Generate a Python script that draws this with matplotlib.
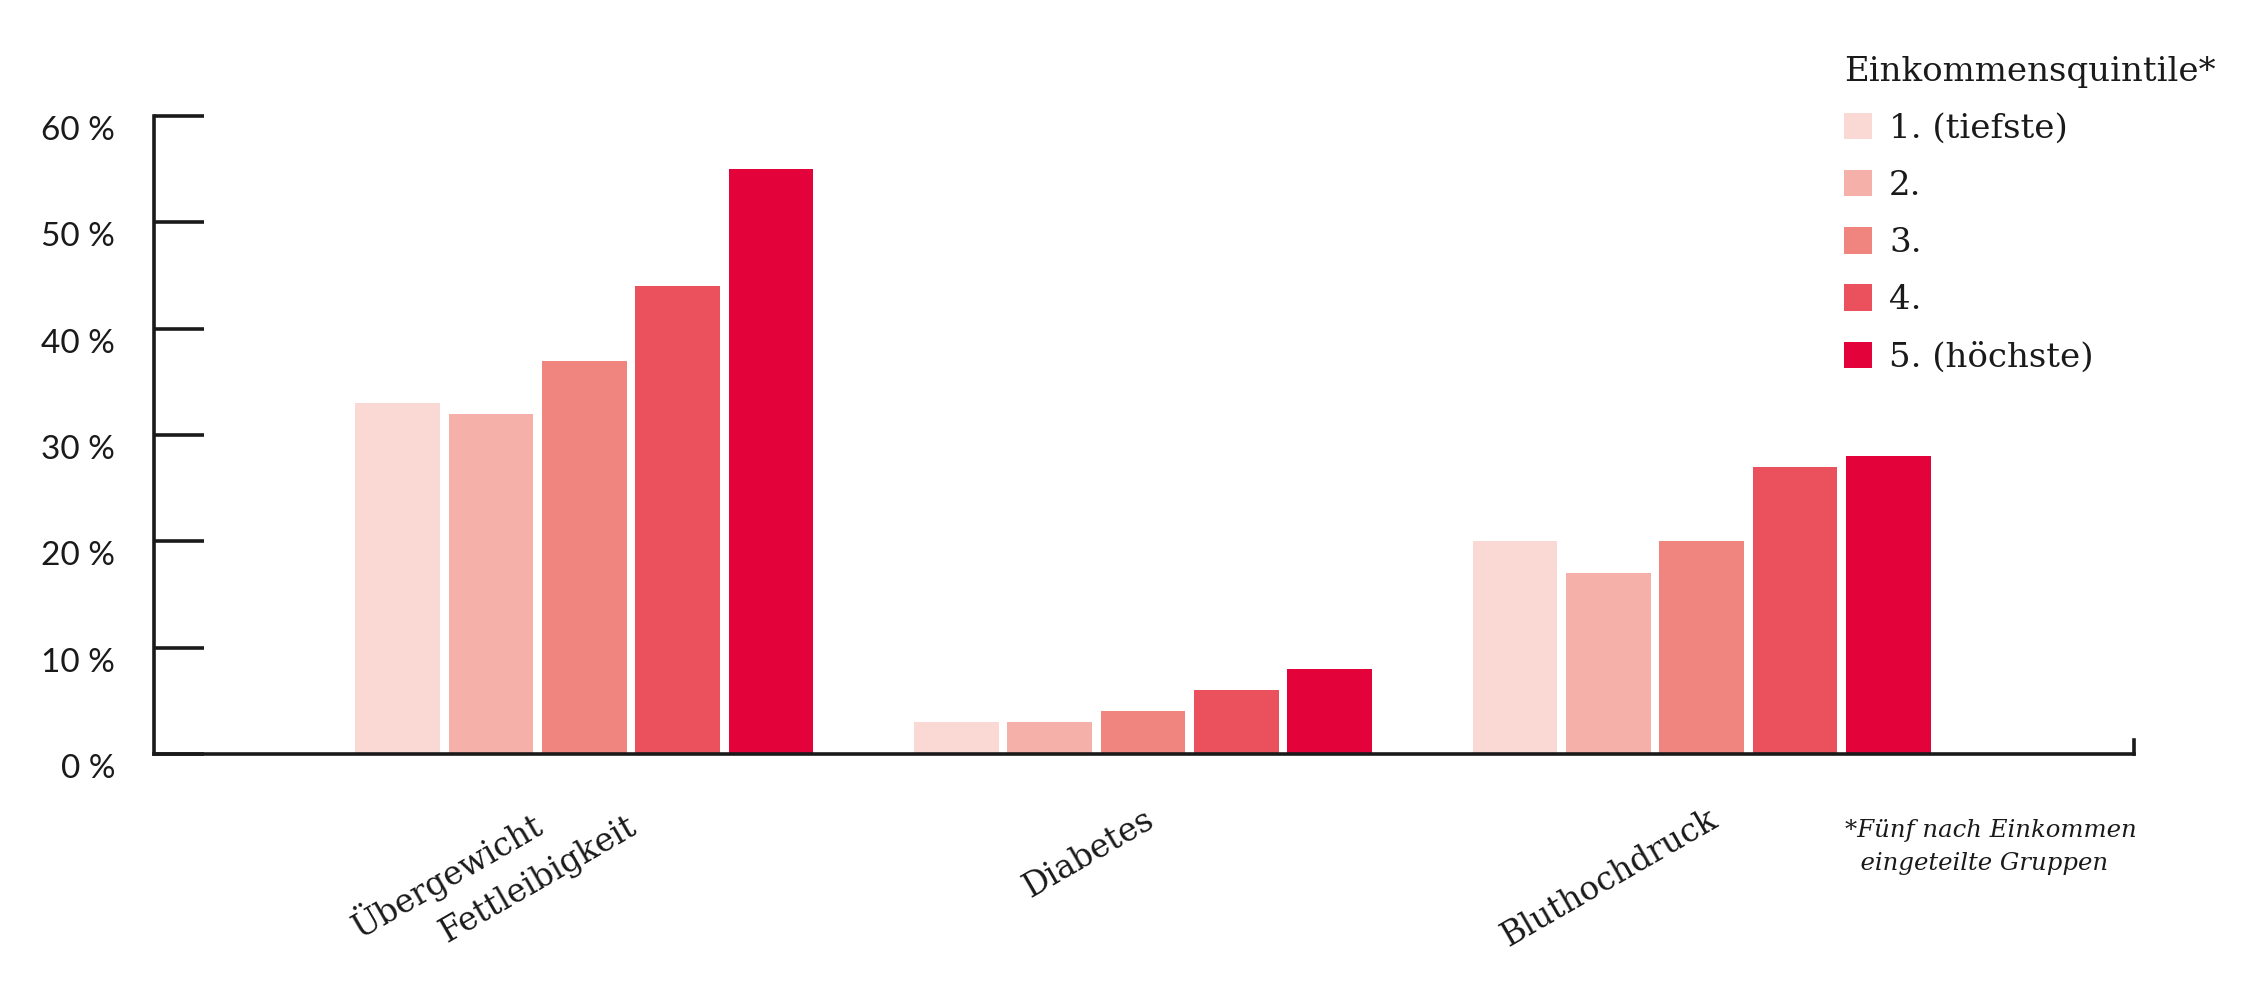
import numpy as np
import matplotlib
matplotlib.use("Agg")
import matplotlib.pyplot as plt

# data
categories = ["Übergewicht Fettleibigkeit", "Diabetes", "Bluthochdruck"]
quintiles = ["1. (tiefste)", "2.", "3.", "4.", "5. (höchste)"]
values = [
    [33, 3, 20],   # 1. (tiefste)
    [32, 3, 17],   # 2.
    [37, 4, 20],   # 3.
    [44, 6, 27],   # 4.
    [55, 8, 28],   # 5. (höchste)
]
colors = ["#FAD9D4", "#F5B0AA", "#F08580", "#EB515C", "#E4023A"]
yticks = [0, 10, 20, 30, 40, 50, 60]
ytick_labels = [f"{t} %" for t in yticks]

serif = "DejaVu Serif"
sans = "Lato"
dark = "#1a1a1a"

fig = plt.figure(figsize=(22.53, 9.92), dpi=100)
ax = fig.add_axes([0.0684, 0.240, 0.947 - 0.0684, 0.643])

x = np.arange(len(categories))
step = 0.1671
width = 0.1517
for i, (vals, c, lab) in enumerate(zip(values, colors, quintiles)):
    ax.bar(x + (i - 2) * step, vals, width=width, color=c, label=lab, linewidth=0)

ax.set_xlim(-0.770, 2.773)
ax.set_ylim(0, 60)

ax.spines["top"].set_visible(False)
for s in ["left", "bottom", "right"]:
    ax.spines[s].set_linewidth(2.6)
    ax.spines[s].set_color(dark)
ax.spines["right"].set_bounds(0, 1.3)

ax.set_yticks(yticks)
ax.set_yticklabels(ytick_labels, fontfamily=sans, fontsize=24, color=dark)
ax.tick_params(axis="y", direction="in", length=36, width=2.6, color=dark, pad=28)
for t in ax.get_yticklabels():
    t.set_va("top")
ax.set_xticks([])

# category labels, rotated
lab_kw = dict(rotation=30, rotation_mode="anchor", ha="right", va="top",
              fontfamily=serif, fontsize=23.5, color=dark,
              transform=ax.get_xaxis_transform())
ax.text(x[0] - 0.099, -0.078, "Übergewicht", **lab_kw)
ax.text(x[0] + 0.075, -0.089, "Fettleibigkeit", **lab_kw)
ax.text(x[1] + 0.0, -0.078, categories[1], **lab_kw)
ax.text(x[2] + 0.01, -0.078, categories[2], **lab_kw)

# legend
leg = fig.legend(loc="upper left", bbox_to_anchor=(0.8185, 0.944),
                 bbox_transform=fig.transFigure, frameon=False,
                 borderpad=0, borderaxespad=0, handlelength=0.82, handleheight=0.82,
                 handletextpad=0.5, labelspacing=0.74, alignment="left",
                 title="Einkommensquintile*",
                 prop={"family": serif, "size": 24.5},
                 title_fontproperties={"family": serif, "size": 24.5})
for t in leg.get_texts():
    t.set_color(dark)
leg.get_title().set_color(dark)

# footnote
fig.text(0.819, 1 - 847 / 992, "*Fünf nach Einkommen\n  eingeteilte Gruppen",
         fontfamily=serif, fontstyle="italic", fontsize=17.6, color=dark,
         ha="left", va="center", linespacing=1.6)

fig.savefig("out.png", dpi=100)
